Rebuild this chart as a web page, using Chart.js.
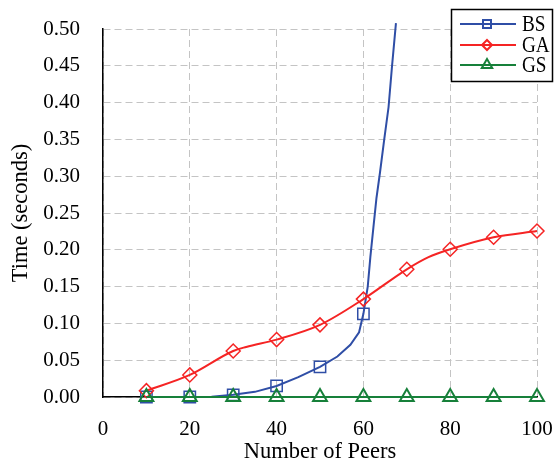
<!DOCTYPE html>
<html>
<head>
<meta charset="utf-8">
<script src="https://cdn.jsdelivr.net/npm/chart.js@4/dist/chart.umd.min.js"></script>
<style>
  body { margin: 0; background: #fff; }
  #wrap { width: 555px; height: 467px; position: relative; }
</style>
</head>
<body>
<div id="wrap"><canvas id="chart"></canvas></div>
<script>
// values
const bsX = [10, 20, 25, 30, 35, 40, 45, 50, 54, 57, 59, 60, 61, 61.6, 62.3, 63, 63.8, 64.8, 65.8, 66.6, 67.5];
const bsY = [0, 0, 0.0005, 0.003, 0.007, 0.015, 0.027, 0.041, 0.055, 0.071, 0.088, 0.113, 0.15, 0.19, 0.23, 0.27, 0.304, 0.35, 0.394, 0.45, 0.508];

const gaX = [10, 20, 30, 33, 40, 50, 60, 70, 75, 80, 90, 100];
const gaY = [0.0086, 0.030, 0.0625, 0.068, 0.078, 0.098, 0.133, 0.1735, 0.19, 0.2007, 0.217, 0.2255];

const gsX = [10, 20, 30, 40, 50, 60, 70, 80, 90, 100];
const gsY = [0, 0, 0, 0, 0, 0, 0, 0, 0, 0];

const seriesLabels = ["BS", "GA", "GS"];

const FONT = "'Liberation Serif', 'Times New Roman', serif";

function toPoints(xs, ys) {
  return xs.map((x, i) => ({x: x, y: ys[i]}));
}

// markers only on the multiples of ten
function markerAt(size) {
  return (ctx) => (ctx.raw && ctx.raw.x % 10 === 0) ? size : 0;
}

function drawMarker(ctx, style, x, y, r) {
  ctx.beginPath();
  if (style === "rect") {
    ctx.rect(x - r, y - r, r * 2, r * 2);
  } else if (style === "rectRot") {
    ctx.moveTo(x, y - r);
    ctx.lineTo(x + r, y);
    ctx.lineTo(x, y + r);
    ctx.lineTo(x - r, y);
    ctx.closePath();
  } else {
    ctx.moveTo(x, y - r);
    ctx.lineTo(x + r * 0.87, y + r * 0.5);
    ctx.lineTo(x - r * 0.87, y + r * 0.5);
    ctx.closePath();
  }
  ctx.stroke();
}

const legendBox = {
  id: "legendBox",
  afterDraw(chart) {
    const ctx = chart.ctx;
    ctx.save();
    ctx.fillStyle = "#fff";
    ctx.fillRect(451.5, 9.5, 101, 72);
    ctx.strokeStyle = "#000";
    ctx.lineWidth = 1.5;
    ctx.strokeRect(451.5, 9.5, 101, 72);

    const rows = [24, 45, 65];
    const sizes = [4, 5, 6];
    chart.data.datasets.forEach((ds, i) => {
      const y = rows[i];
      ctx.strokeStyle = ds.borderColor;
      ctx.lineWidth = 2;
      ctx.beginPath();
      ctx.moveTo(460, y);
      ctx.lineTo(516, y);
      ctx.stroke();
      ctx.fillStyle = "#fff";
      drawMarker(ctx, ds.pointStyle, 487, y, sizes[i]);

      ctx.save();
      ctx.translate(522, y + 1);
      ctx.scale(0.8, 1);
      ctx.fillStyle = "#000";
      ctx.font = "24px " + FONT;
      ctx.textBaseline = "middle";
      ctx.fillText(ds.label, 0, 0);
      ctx.restore();
    });
    ctx.restore();
  }
};

const data = {
  datasets: [{
    label: seriesLabels[0],
    data: toPoints(bsX, bsY),
    borderColor: "#2f4ea6",
    borderWidth: 2,
    pointStyle: "rect",
    pointRadius: markerAt(8),
    pointBorderWidth: 1.5,
    pointBackgroundColor: "transparent",
    tension: 0,
    clip: false,
    order: 2
  }, {
    label: seriesLabels[1],
    data: toPoints(gaX, gaY),
    borderColor: "#f52424",
    borderWidth: 2,
    pointStyle: "rectRot",
    pointRadius: markerAt(7),
    pointBorderWidth: 1.5,
    pointBackgroundColor: "transparent",
    cubicInterpolationMode: "monotone",
    clip: false,
    order: 1
  }, {
    label: seriesLabels[2],
    data: toPoints(gsX, gsY),
    borderColor: "#17803a",
    borderWidth: 2,
    pointStyle: "triangle",
    pointRadius: markerAt(8),
    pointBorderWidth: 2,
    pointBackgroundColor: "transparent",
    clip: false,
    order: 0
  }]
};

const config = {
  type: "line",
  data: data,
  plugins: [legendBox],
  options: {
    responsive: true,
    maintainAspectRatio: false,
    animation: false,
    layout: {
      padding: {top: 29, right: 18, left: 0, bottom: 0}
    },
    plugins: {
      legend: {display: false},
      tooltip: {enabled: false}
    },
    scales: {
      x: {
        type: "linear",
        min: 0,
        max: 100,
        afterFit: (scale) => {
          scale.height = 70;
          scale.paddingLeft = 0;
          scale.paddingRight = 0;
        },
        ticks: {
          stepSize: 20,
          color: "#000",
          padding: 20,
          maxRotation: 0,
          font: {family: FONT, size: 21}
        },
        grid: {color: "#c4c4c4", lineWidth: 1, drawTicks: false},
        border: {color: "#000", width: 1.5, dash: [7, 4]},
        title: {
          display: true,
          text: "Number of Peers",
          color: "#000",
          font: {family: FONT, size: 22.5},
          padding: {top: 0, bottom: 1}
        }
      },
      y: {
        min: 0,
        max: 0.5,
        afterFit: (scale) => {
          scale.width = 103;
          scale.paddingTop = 0;
          scale.paddingBottom = 0;
        },
        ticks: {
          stepSize: 0.05,
          color: "#000",
          padding: 23,
          font: {family: FONT, size: 21},
          callback: (v) => v.toFixed(2)
        },
        grid: {color: "#c4c4c4", lineWidth: 1, drawTicks: false},
        border: {color: "#000", width: 1.5, dash: [7, 4]},
        title: {
          display: true,
          text: "Time (seconds)",
          color: "#000",
          font: {family: FONT, size: 22.5},
          padding: {top: 8, bottom: 0}
        }
      }
    }
  }
};

new Chart(document.getElementById("chart"), config);
</script>
</body>
</html>
